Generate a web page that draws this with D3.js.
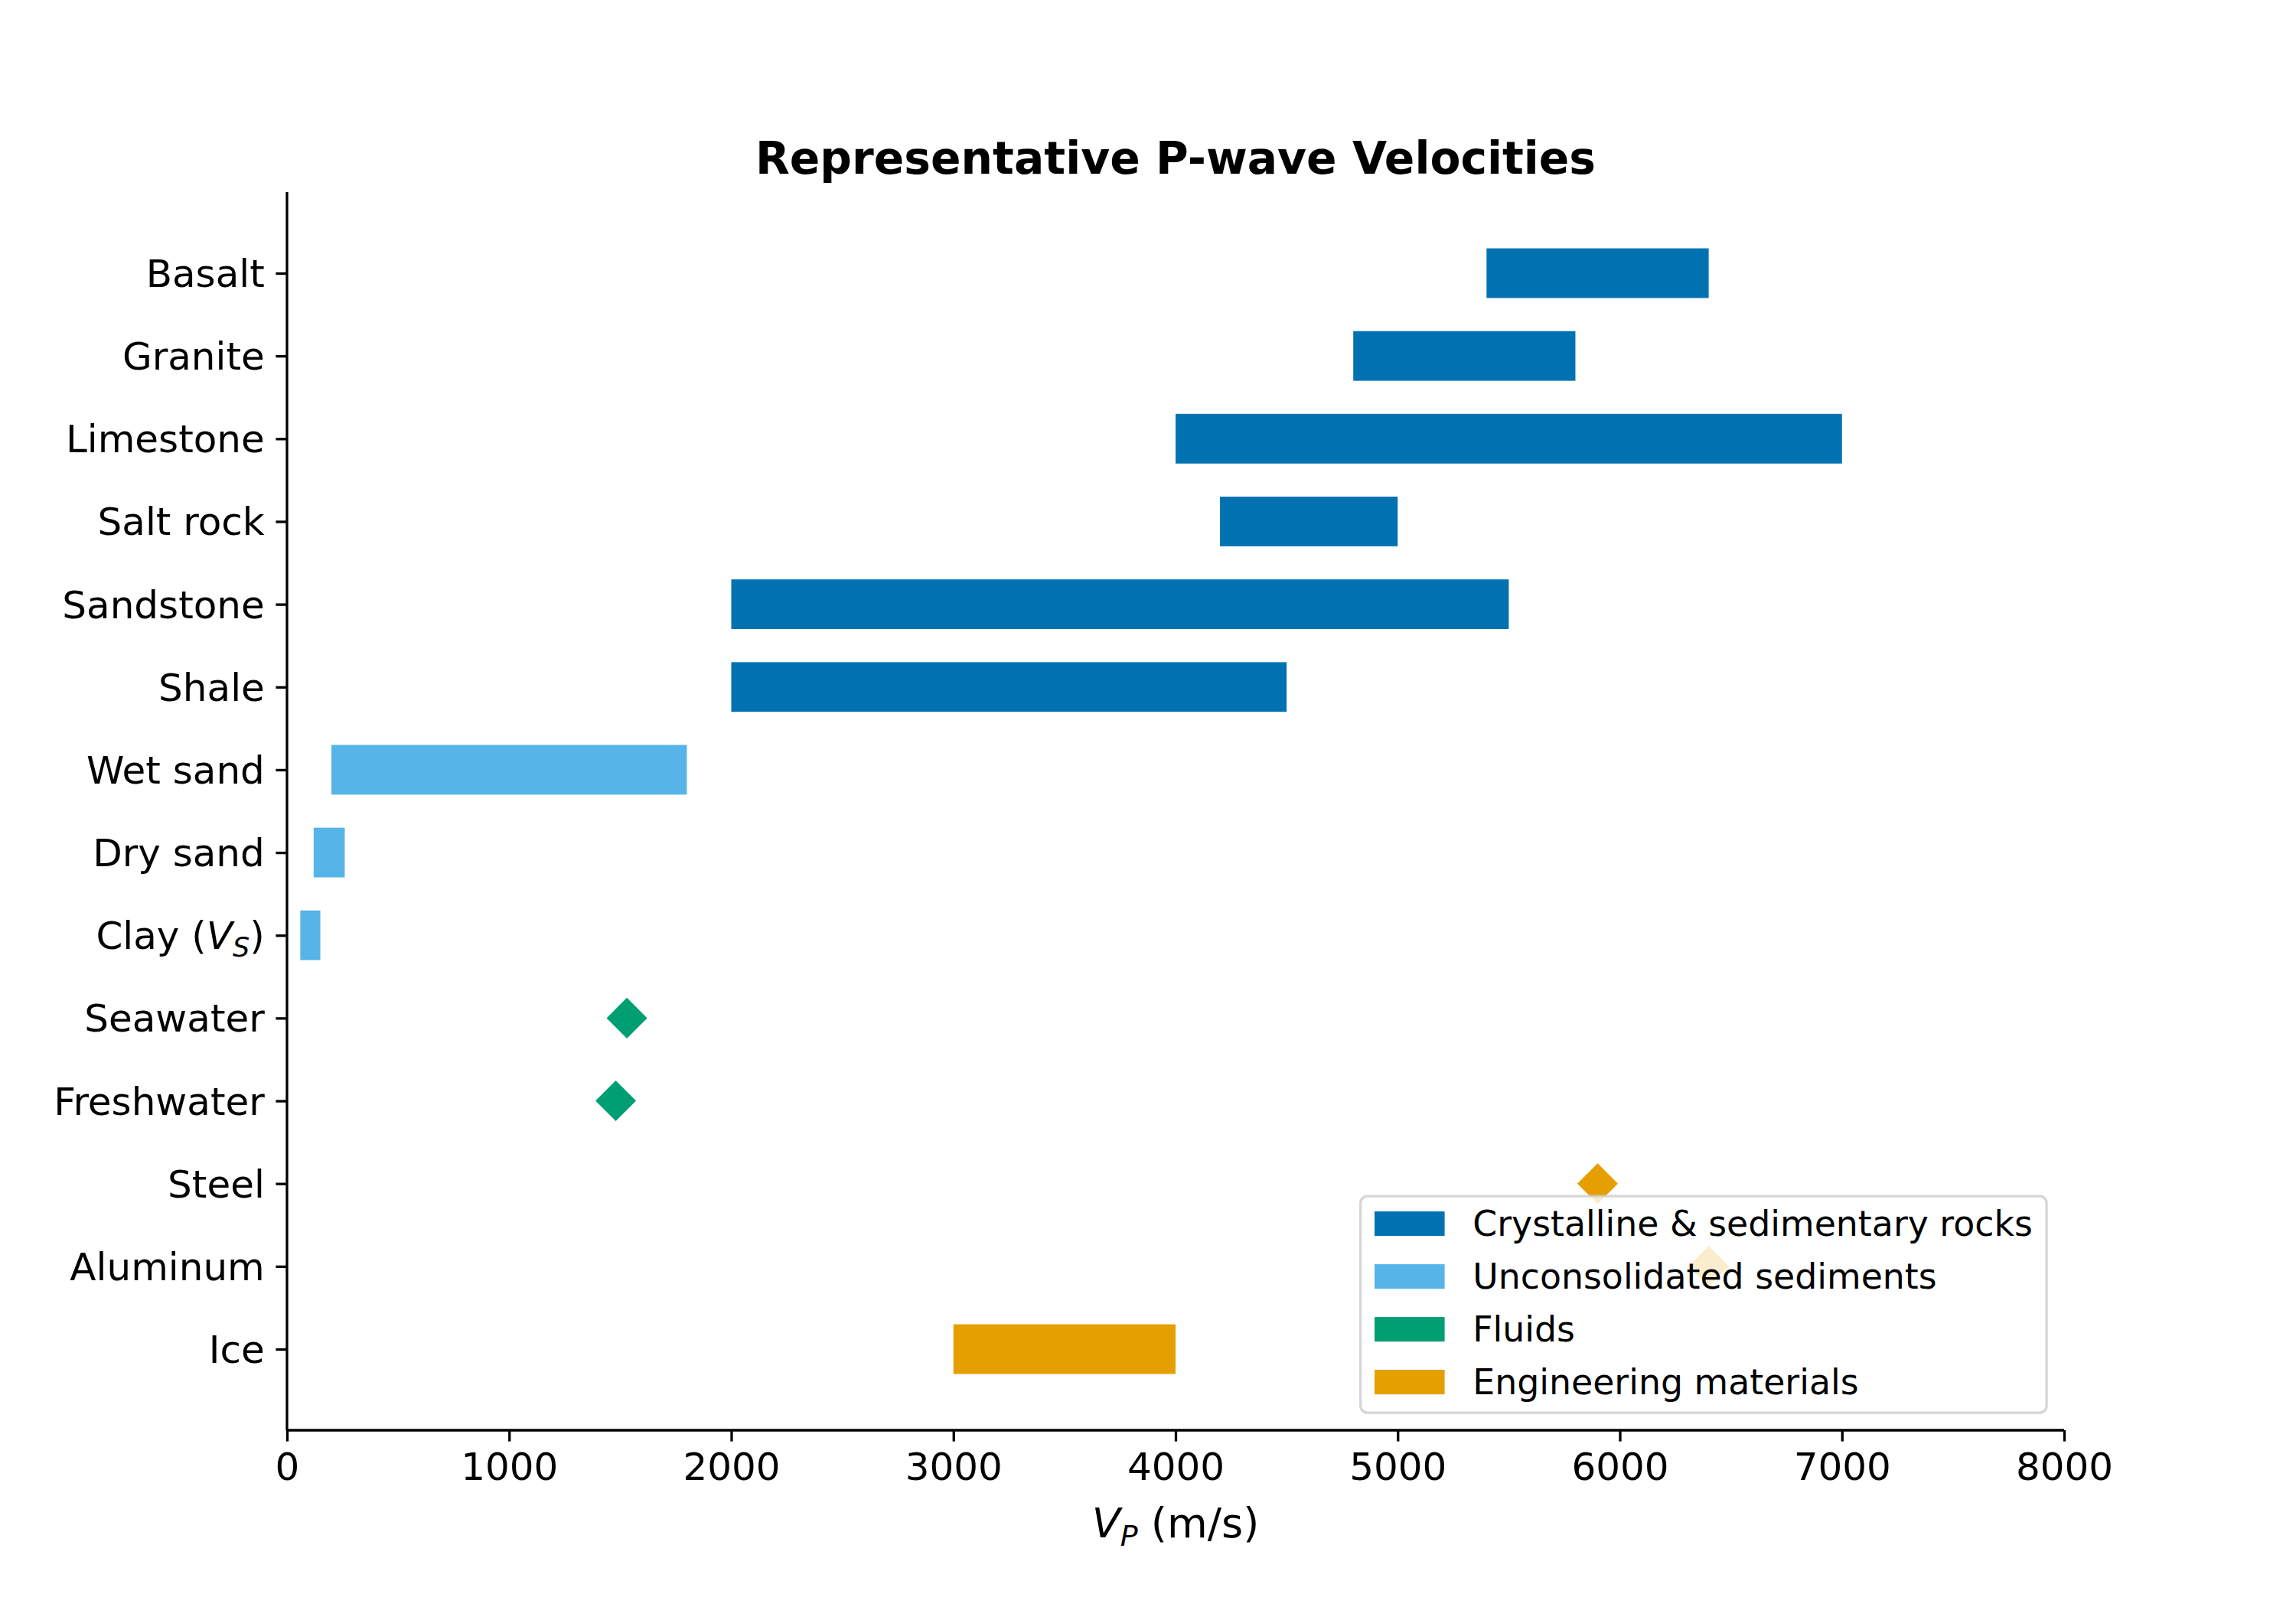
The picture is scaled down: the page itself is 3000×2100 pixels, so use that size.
<!DOCTYPE html>
<html>
<head>
<meta charset="utf-8">
<script src="https://cdn.jsdelivr.net/npm/d3@7/dist/d3.min.js"></script>
<style>
    body { margin: 0; background: #fff; }
    svg text { font-family: "DejaVu Sans", sans-serif; fill: #000; }
</style>
</head>
<body>
<svg id="chart" width="3000" height="2100"></svg>
<script>
// values
var categories = ["Basalt", "Granite", "Limestone", "Salt rock", "Sandstone", "Shale", "Wet sand",
    "Dry sand", "Clay (V_S)", "Seawater", "Freshwater", "Steel", "Aluminum", "Ice"];
var groupIndex = [0, 0, 0, 0, 0, 0, 1, 1, 1, 2, 2, 3, 3, 3];
var rangeLow  = [5400, 4800, 4000, 4200, 2000, 2000, 200, 120, 60, null, null, null, null, 3000];
var rangeHigh = [6400, 5800, 7000, 5000, 5500, 4500, 1800, 260, 150, null, null, null, null, 4000];
var pointValue = [null, null, null, null, null, null, null, null, null, 1530, 1480, 5900, 6400, null];
var groupLabels = ["Crystalline & sedimentary rocks", "Unconsolidated sediments", "Fluids", "Engineering materials"];
var groupColors = ["#0072B2", "#56B4E9", "#009E73", "#E69F00"];
var xTicks = [0, 1000, 2000, 3000, 4000, 5000, 6000, 7000, 8000];

var svg = d3.select("svg#chart");
var margin = {top: 251, right: 303, bottom: 231, left: 375},
    width = +svg.attr("width") - margin.left - margin.right,
    height = +svg.attr("height") - margin.top - margin.bottom;
var fs = 50;          // tick labels, 12pt at 300dpi
var legFs = 45.8;     // legend, 11pt
var tickLen = 14.6, lw = 3.3;

var g = svg.append("g").attr("transform", "translate(" + margin.left + "," + margin.top + ")");

var x = d3.scaleLinear().domain([0, 8000]).range([0, width]);
// matplotlib barh: bars of height .6 plus 5% margins
var y = d3.scaleLinear().domain([-0.98, categories.length - 1 + 0.98]).range([0, height]);
var barH = y(0.6) - y(0);

// label helper: "Clay (V_S)" -> italic V with subscript
function mathLabel(sel, txt, size) {
    var m = txt.match(/^(.*?)([A-Za-z])_([A-Za-z])(.*)$/);
    if (!m) { sel.text(txt); return; }
    sel.append("tspan").text(m[1]);
    sel.append("tspan").attr("font-style", "italic").text(m[2]);
    sel.append("tspan").attr("font-style", "italic").attr("font-size", size * 0.7)
        .attr("dy", size * 0.2).text(m[3]);
    sel.append("tspan").attr("dy", -size * 0.2).text(m[4]);
}

// range bars
var rows = categories.map(function (c, i) {
    return {name: c, i: i, lo: rangeLow[i], hi: rangeHigh[i], pt: pointValue[i], grp: groupIndex[i]};
});

g.selectAll("rect.bar")
    .data(rows.filter(function (d) { return d.lo !== null; }))
    .enter().append("rect")
    .attr("class", "bar")
    .attr("x", function (d) { return x(d.lo); })
    .attr("width", function (d) { return x(d.hi) - x(d.lo); })
    .attr("y", function (d) { return y(d.i) - barH / 2; })
    .attr("height", barH)
    .attr("fill", function (d) { return groupColors[d.grp]; });

// single values as diamonds
var diamond = d3.symbol().type(d3.symbolSquare).size(37.5 * 37.5);
g.selectAll("path.pt")
    .data(rows.filter(function (d) { return d.pt !== null; }))
    .enter().append("path")
    .attr("class", "pt")
    .attr("d", diamond)
    .attr("transform", function (d) { return "translate(" + x(d.pt) + "," + y(d.i) + ") rotate(45)"; })
    .attr("fill", function (d) { return groupColors[d.grp]; });

// axes
var xAxis = g.append("g")
    .attr("transform", "translate(0," + height + ")")
    .call(d3.axisBottom(x).tickValues(xTicks).tickFormat(d3.format("d")).tickSize(tickLen).tickPadding(14.6));
var yAxis = g.append("g")
    .call(d3.axisLeft(y).tickValues(d3.range(categories.length)).tickFormat("").tickSize(tickLen).tickPadding(14.6));

[xAxis, yAxis].forEach(function (a) {
    a.select(".domain").attr("stroke", "#000").attr("stroke-width", lw);
    a.selectAll(".tick line").attr("stroke", "#000").attr("stroke-width", lw);
    a.selectAll("text").attr("font-size", fs).attr("font-family", "DejaVu Sans").attr("fill", "#000");
});
// fix domain path (remove outer ticks)
xAxis.select(".domain").attr("d", "M0,0H" + width);
yAxis.select(".domain").attr("d", "M0,0V" + height);

yAxis.selectAll(".tick").each(function (d) {
    var t = d3.select(this).select("text")
        .attr("x", -tickLen - 14.6)
        .attr("dy", "0.35em")
        .attr("text-anchor", "end");
    mathLabel(t, categories[d], fs);
});

// x label
var xl = svg.append("text")
    .attr("x", margin.left + width / 2)
    .attr("y", 2009)
    .attr("text-anchor", "middle")
    .attr("font-size", 54.2);
mathLabel(xl, "V_P (m/s)", 54.2);

// title
svg.append("text")
    .attr("x", margin.left + width / 2)
    .attr("y", 227)
    .attr("text-anchor", "middle")
    .attr("font-size", 58.3)
    .attr("font-weight", "bold")
    .text("Representative P-wave Velocities");

// legend, lower right
var pad = 0.4 * legFs, handleW = 2 * legFs, handleH = 0.7 * legFs, textPad = 0.8 * legFs, rowH = 69;
var leg = g.append("g");
var legBox = leg.append("rect");
var items = leg.selectAll("g.item")
    .data(groupLabels)
    .enter().append("g")
    .attr("class", "item");
items.append("rect")
    .attr("x", 0).attr("y", -handleH / 2)
    .attr("width", handleW).attr("height", handleH)
    .attr("fill", function (d, i) { return groupColors[i]; });
items.append("text")
    .attr("x", handleW + textPad)
    .attr("dy", "0.35em")
    .attr("font-size", legFs)
    .text(function (d) { return d; });

var maxText = d3.max(items.selectAll("text").nodes(), function (n) { return n.getComputedTextLength(); });
var legW = pad * 2 + handleW + textPad + maxText,
    legH = 283;
var legX = width - 0.5 * legFs - legW,
    legY = height - 0.5 * legFs - legH;
legBox.attr("x", legX).attr("y", legY)
    .attr("width", legW).attr("height", legH)
    .attr("rx", 9).attr("ry", 9)
    .attr("fill", "#fff").attr("fill-opacity", 0.8)
    .attr("stroke", "#cccccc").attr("stroke-opacity", 0.8).attr("stroke-width", lw);
items.attr("transform", function (d, i) {
    return "translate(" + (legX + pad) + "," + (legY + 36 + i * rowH) + ")";
});
</script>
</body>
</html>
